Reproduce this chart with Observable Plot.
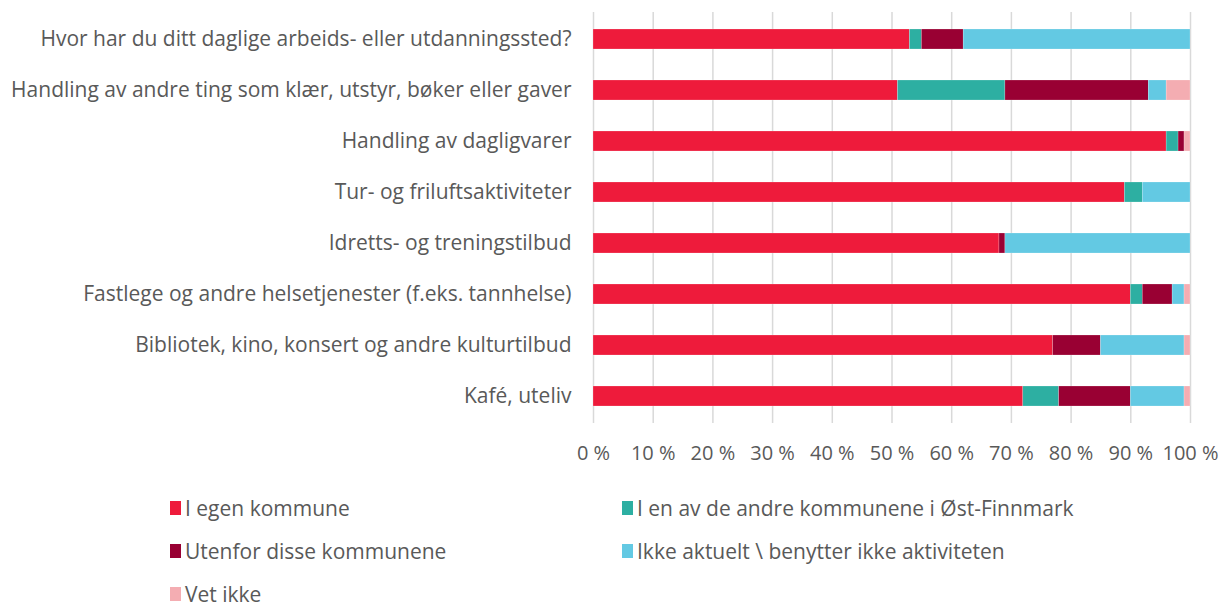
<!DOCTYPE html>
<html>
<head>
<meta charset="utf-8">
<script src="https://cdn.jsdelivr.net/npm/d3@7"></script>
<script src="https://cdn.jsdelivr.net/npm/@observablehq/plot@0.6"></script>
<style>
  body { margin: 0; background: #fff; font-family: "Open Sans", Lato, sans-serif; color: #595959; }
  #wrap { position: relative; width: 1222px; height: 607px; overflow: hidden; }
  #legend { position: absolute; left: 0; top: 0; width: 1222px; height: 607px; pointer-events: none; }
  .item { position: absolute; display: flex; align-items: center; font-size: 21px; line-height: 24px; white-space: nowrap; }
  .sw { width: 11px; height: 14px; margin-right: 4px; flex: none; }
</style>
</head>
<body>
<div id="wrap"><div id="chart"></div><div id="legend"></div></div>
<script>
const categories = [
  "Hvor har du ditt daglige arbeids- eller utdanningssted?",
  "Handling av andre ting som klær, utstyr, bøker eller gaver",
  "Handling av dagligvarer",
  "Tur- og friluftsaktiviteter",
  "Idretts- og treningstilbud",
  "Fastlege og andre helsetjenester (f.eks. tannhelse)",
  "Bibliotek, kino, konsert og andre kulturtilbud",
  "Kafé, uteliv"
];
const series = [
  "I egen kommune",
  "I en av de andre kommunene i Øst-Finnmark",
  "Utenfor disse kommunene",
  "Ikke aktuelt \\ benytter ikke aktiviteten",
  "Vet ikke"
];
const colors = ["#EE1B3B", "#2DAFA2", "#990033", "#63C9E3", "#F4ADB2"];
const egenKommune   = [53, 51, 96, 89, 68, 90, 77, 72];
const andreKommuner = [2, 18, 2, 3, 0, 2, 0, 6];
const utenfor       = [7, 24, 1, 0, 1, 5, 8, 12];
const ikkeAktuelt   = [38, 3, 0, 8, 31, 2, 14, 9];
const vetIkke       = [0, 4, 1, 0, 0, 1, 1, 1];
const xTicks = [0, 10, 20, 30, 40, 50, 60, 70, 80, 90, 100];

const seriesValues = [egenKommune, andreKommuner, utenfor, ikkeAktuelt, vetIkke];
const data = [];
series.forEach((s, si) => {
  categories.forEach((c, ci) => {
    data.push({category: c, series: s, value: seriesValues[si][ci]});
  });
});

const chart = Plot.plot({
  width: 1222,
  height: 477,
  marginLeft: 593,
  marginRight: 32,
  marginTop: 12,
  marginBottom: 54,
  style: {fontFamily: "'Open Sans', Lato, sans-serif", fontSize: "21px", color: "#595959", background: "#fff"},
  x: {domain: [0, 100], ticks: xTicks, tickFormat: d => d + " %", tickSize: 0, tickPadding: 22, label: null},
  y: {domain: categories, paddingInner: 0.6, paddingOuter: 0.3, tickSize: 0, tickPadding: 22, label: null},
  color: {domain: series, range: colors},
  marks: [
    Plot.gridX(xTicks, {stroke: "#d9d9d9", strokeOpacity: 1, strokeWidth: 1.5}),
    Plot.barX(data, Plot.stackX({x: "value", y: "category", fill: "series", order: null, stroke: "#fff", strokeWidth: 0.4, strokeOpacity: 0.5})),
    Plot.axisX({ticks: xTicks, tickFormat: d => d + " %", tickSize: 0, tickPadding: 22, fontSize: 20}),
    Plot.axisY({tickSize: 0, tickPadding: 22, fontSize: 21})
  ]
});
document.getElementById("chart").appendChild(chart);

const legendPos = [
  [170, 508], [622, 508],
  [170, 551], [622, 551],
  [170, 594]
];
const legend = document.getElementById("legend");
series.forEach((s, i) => {
  const d = document.createElement("div");
  d.className = "item";
  d.style.left = legendPos[i][0] + "px";
  d.style.top = (legendPos[i][1] - 12) + "px";
  d.style.height = "24px";
  const sw = document.createElement("span");
  sw.className = "sw";
  sw.style.background = colors[i];
  const t = document.createElement("span");
  t.textContent = s;
  d.appendChild(sw);
  d.appendChild(t);
  legend.appendChild(d);
});
</script>
</body>
</html>
